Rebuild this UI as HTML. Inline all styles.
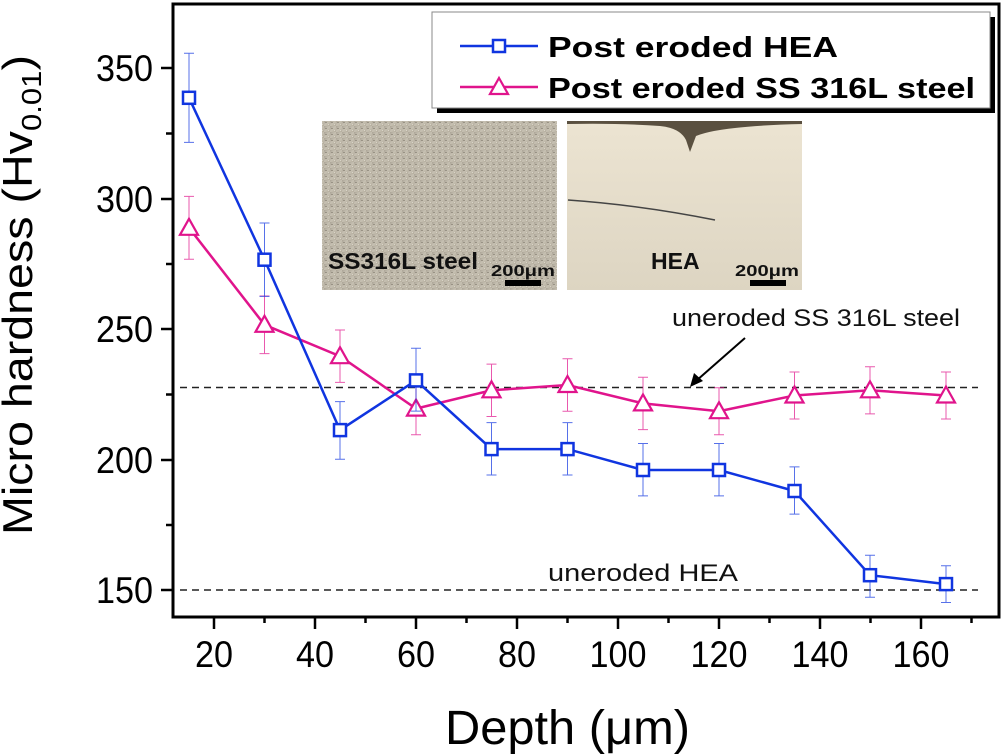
<!DOCTYPE html>
<html><head><meta charset="utf-8"><style>
body{margin:0;background:#fff;}
svg{display:block;font-family:"Liberation Sans",Arial,sans-serif;}
</style></head><body>
<svg width="1004" height="754" viewBox="0 0 1004 754" xmlns="http://www.w3.org/2000/svg">
<defs>
<linearGradient id="g1" x1="0" y1="0" x2="1" y2="1">
<stop offset="0" stop-color="#aaa395"/><stop offset="0.5" stop-color="#c6c0b2"/><stop offset="1" stop-color="#b3ac9c"/>
</linearGradient>
<pattern id="p1" width="6" height="6" patternUnits="userSpaceOnUse">
<rect width="6" height="6" fill="url(#g1)"/><rect x="1" y="2" width="2" height="1" fill="#7f786a" opacity=".6"/><rect x="4" y="4" width="1" height="1" fill="#e6e1d6" opacity=".7"/>
</pattern>
<linearGradient id="g2" x1="0" y1="0" x2="0" y2="1">
<stop offset="0" stop-color="#ece4d2"/><stop offset="1" stop-color="#ddd5c2"/>
</linearGradient>
</defs>
<!-- inset images -->
<rect x="322" y="121" width="235" height="169" fill="url(#p1)"/>
<text x="328" y="269" font-size="23" font-weight="bold" fill="#111" textLength="150" lengthAdjust="spacingAndGlyphs">SS316L steel</text>
<text x="491" y="276" font-size="16" font-weight="bold" fill="#111" textLength="64" lengthAdjust="spacingAndGlyphs">200μm</text>
<rect x="505" y="280" width="36" height="6" fill="#000"/>
<rect x="567" y="121" width="235" height="169" fill="url(#g2)"/>
<path d="M567 124 Q620 123 660 126 Q680 128 686 140 L690 152 L696 136 Q720 126 802 124 L802 121 L567 121Z" fill="#5a5040"/>
<path d="M568 200 Q640 205 715 220" stroke="#444" stroke-width="1.5" fill="none"/>
<text x="651" y="269" font-size="23" font-weight="bold" fill="#111">HEA</text>
<text x="735" y="276" font-size="16" font-weight="bold" fill="#111" textLength="64" lengthAdjust="spacingAndGlyphs">200μm</text>
<rect x="750" y="280" width="36" height="6" fill="#000"/>
<!-- axes frame -->
<rect x="173" y="4" width="826" height="613" fill="none" stroke="#000" stroke-width="3"/>
<!-- y ticks -->
<g stroke="#000" stroke-width="2.5">
<line x1="161" y1="590" x2="173" y2="590"/><line x1="166" y1="525" x2="173" y2="525"/>
<line x1="161" y1="460" x2="173" y2="460"/><line x1="166" y1="394.5" x2="173" y2="394.5"/>
<line x1="161" y1="329" x2="173" y2="329"/><line x1="166" y1="264" x2="173" y2="264"/>
<line x1="161" y1="199" x2="173" y2="199"/><line x1="166" y1="133.5" x2="173" y2="133.5"/>
<line x1="161" y1="68" x2="173" y2="68"/>
</g>
<g font-size="37" text-anchor="end" fill="#000">
<text x="153" y="603" textLength="57" lengthAdjust="spacingAndGlyphs">150</text>
<text x="153" y="473" textLength="57" lengthAdjust="spacingAndGlyphs">200</text>
<text x="153" y="342" textLength="57" lengthAdjust="spacingAndGlyphs">250</text>
<text x="153" y="212" textLength="57" lengthAdjust="spacingAndGlyphs">300</text>
<text x="153" y="81" textLength="57" lengthAdjust="spacingAndGlyphs">350</text>
</g>
<!-- x ticks -->
<g stroke="#000" stroke-width="2.5">
<line x1="214" y1="617" x2="214" y2="629"/><line x1="264.5" y1="617" x2="264.5" y2="623"/>
<line x1="315" y1="617" x2="315" y2="629"/><line x1="365.5" y1="617" x2="365.5" y2="623"/>
<line x1="416" y1="617" x2="416" y2="629"/><line x1="466.5" y1="617" x2="466.5" y2="623"/>
<line x1="517" y1="617" x2="517" y2="629"/><line x1="567.5" y1="617" x2="567.5" y2="623"/>
<line x1="618" y1="617" x2="618" y2="629"/><line x1="668.5" y1="617" x2="668.5" y2="623"/>
<line x1="719" y1="617" x2="719" y2="629"/><line x1="769.5" y1="617" x2="769.5" y2="623"/>
<line x1="820" y1="617" x2="820" y2="629"/><line x1="870.5" y1="617" x2="870.5" y2="623"/>
<line x1="921" y1="617" x2="921" y2="629"/><line x1="971.5" y1="617" x2="971.5" y2="623"/>
</g>
<g font-size="37" text-anchor="middle" fill="#000" lengthAdjust="spacingAndGlyphs">
<text x="214" y="667" textLength="38" lengthAdjust="spacingAndGlyphs">20</text>
<text x="315" y="667" textLength="38" lengthAdjust="spacingAndGlyphs">40</text>
<text x="416" y="667" textLength="38" lengthAdjust="spacingAndGlyphs">60</text>
<text x="517" y="667" textLength="38" lengthAdjust="spacingAndGlyphs">80</text>
<text x="618" y="667" textLength="57" lengthAdjust="spacingAndGlyphs">100</text>
<text x="719" y="667" textLength="57" lengthAdjust="spacingAndGlyphs">120</text>
<text x="820" y="667" textLength="57" lengthAdjust="spacingAndGlyphs">140</text>
<text x="921" y="667" textLength="57" lengthAdjust="spacingAndGlyphs">160</text>
</g>
<text x="445" y="744" font-size="48" textLength="245" lengthAdjust="spacingAndGlyphs">Depth (μm)</text>
<text transform="translate(32,535) rotate(-90)" font-size="42" textLength="480" lengthAdjust="spacingAndGlyphs">Micro hardness (Hv<tspan font-size="28" dy="9">0.01</tspan><tspan dy="-9">)</tspan></text>
<!-- dashed reference lines -->
<line x1="180" y1="387.5" x2="978" y2="387.5" stroke="#222" stroke-width="1.5" stroke-dasharray="7,5"/>
<line x1="180" y1="590" x2="978" y2="590" stroke="#222" stroke-width="1.5" stroke-dasharray="7,5"/>
<text x="672" y="326" font-size="24" fill="#111" textLength="288" lengthAdjust="spacingAndGlyphs">uneroded SS 316L steel</text>
<line x1="745" y1="338" x2="696" y2="381" stroke="#000" stroke-width="2"/>
<polygon points="690,387 694,373 703,381" fill="#000"/>
<text x="548" y="581" font-size="24" fill="#111" textLength="190" lengthAdjust="spacingAndGlyphs">uneroded HEA</text>
<!-- SS series (magenta) -->
<g stroke="#e0148c" fill="none">
<g stroke-width="1" opacity=".7">
<path d="M189 196.4V259.2M184 196.4h10M184 259.2h10"/>
<path d="M264.5 296V353.6M259.5 296h10M259.5 353.6h10"/>
<path d="M340 330V382.4M335 330h10M335 382.4h10"/>
<path d="M416 382.4V434.8M411 382.4h10M411 434.8h10"/>
<path d="M491.5 364.1V416.5M486.5 364.1h10M486.5 416.5h10"/>
<path d="M567.5 358.8V411.2M562.5 358.8h10M562.5 411.2h10"/>
<path d="M643 377.2V429.6M638 377.2h10M638 429.6h10"/>
<path d="M719 387.7V434.7M714 387.7h10M714 434.7h10"/>
<path d="M794.5 372V419M789.5 372h10M789.5 419h10"/>
<path d="M870 366.7V413.9M865 366.7h10M865 413.9h10"/>
<path d="M946 372V419M941 372h10M941 419h10"/>
</g>
<polyline stroke-width="2.5" points="189,227.8 264.5,324.8 340,356.2 416,408.6 491.5,390.3 567.5,385 643,403.4 719,411.2 794.5,395.5 870,390.3 946,395.5"/>
<g stroke-width="2.2" fill="#fff">
<polygon points="189,218.8 198,234.8 180,234.8"/><polygon points="264.5,315.8 273.5,331.8 255.5,331.8"/>
<polygon points="340,347.2 349,363.2 331,363.2"/><polygon points="416,399.6 425,415.6 407,415.6"/>
<polygon points="491.5,381.3 500.5,397.3 482.5,397.3"/><polygon points="567.5,376 576.5,392 558.5,392"/>
<polygon points="643,394.4 652,410.4 634,410.4"/><polygon points="719,402.2 728,418.2 710,418.2"/>
<polygon points="794.5,386.5 803.5,402.5 785.5,402.5"/><polygon points="870,381.3 879,397.3 861,397.3"/>
<polygon points="946,386.5 955,402.5 937,402.5"/>
</g>
</g>
<!-- HEA series (blue) -->
<g stroke="#1035e0" fill="none">
<g stroke-width="1" opacity=".7">
<path d="M189 53.3V142.4M184 53.3h10M184 142.4h10"/>
<path d="M264.5 223V296.4M259.5 223h10M259.5 296.4h10"/>
<path d="M340 401.6V459.2M335 401.6h10M335 459.2h10"/>
<path d="M416 348.2V411.1M411 348.2h10M411 411.1h10"/>
<path d="M491.5 422.6V475M486.5 422.6h10M486.5 475h10"/>
<path d="M567.5 422.6V475M562.5 422.6h10M562.5 475h10"/>
<path d="M643 443.5V495.9M638 443.5h10M638 495.9h10"/>
<path d="M719 443.5V495.9M714 443.5h10M714 495.9h10"/>
<path d="M794.5 466.9V514.1M789.5 466.9h10M789.5 514.1h10"/>
<path d="M870 555.3V597.2M865 555.3h10M865 597.2h10"/>
<path d="M946 565.8V602.5M941 565.8h10M941 602.5h10"/>
</g>
<polyline stroke-width="2.5" points="189,97.8 264.5,259.7 340,430.1 416,380.4 491.5,449.1 567.5,449.1 643,470 719,470 794.5,491 870,575.2 946,584.1"/>
<g stroke-width="2.5" fill="#fff">
<rect x="183" y="91.8" width="12" height="12"/><rect x="258.5" y="253.7" width="12" height="12"/>
<rect x="334" y="424.1" width="12" height="12"/><rect x="410" y="374.4" width="12" height="12"/>
<rect x="485.5" y="443.1" width="12" height="12"/><rect x="561.5" y="443.1" width="12" height="12"/>
<rect x="637" y="464" width="12" height="12"/><rect x="713" y="464" width="12" height="12"/>
<rect x="788.5" y="485" width="12" height="12"/><rect x="864" y="569.2" width="12" height="12"/>
<rect x="940" y="578.1" width="12" height="12"/>
</g>
</g>
<!-- legend -->
<rect x="437" y="17" width="558" height="96" fill="#000"/>
<rect x="432" y="12" width="558" height="96" fill="#fff" stroke="#888" stroke-width="1"/>
<line x1="460" y1="46" x2="538" y2="46" stroke="#1035e0" stroke-width="2.5"/>
<rect x="493" y="40" width="12" height="12" fill="#fff" stroke="#1035e0" stroke-width="2.5"/>
<line x1="460" y1="87" x2="538" y2="87" stroke="#e0148c" stroke-width="2.5"/>
<polygon points="499,78 508,94 490,94" fill="#fff" stroke="#e0148c" stroke-width="2.2"/>
<text x="548" y="57" font-size="29" font-weight="bold" textLength="290" lengthAdjust="spacingAndGlyphs">Post eroded HEA</text>
<text x="548" y="98" font-size="29" font-weight="bold" textLength="427" lengthAdjust="spacingAndGlyphs">Post eroded SS 316L steel</text>
</svg>
</body></html>
